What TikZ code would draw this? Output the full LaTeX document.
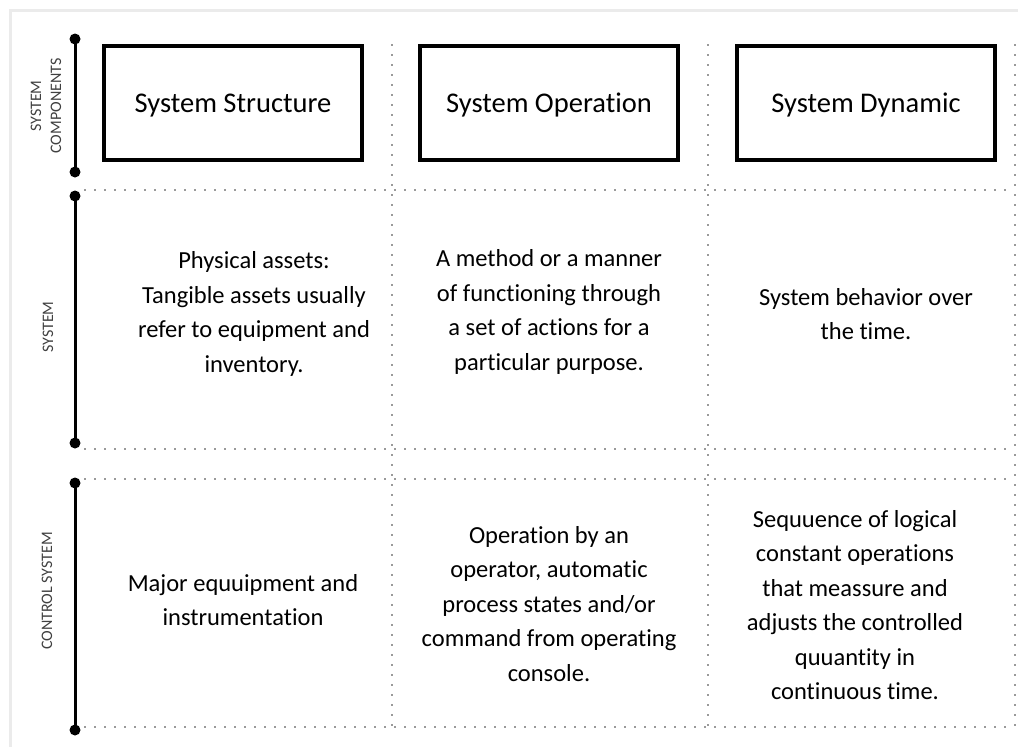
\documentclass[tikz,border=0pt]{standalone}
\usepackage{fontspec}
\setmainfont{Carlito}[Ligatures=NoCommon]
\usetikzlibrary{shadows}
\begin{document}
\begin{tikzpicture}[x=1pt,y=-1pt,
  frame/.style={line width=3pt, draw=black!8},
  bar/.style={line width=3pt, draw=black},
  barend/.style={circle, fill=black, inner sep=0pt, minimum size=11pt},
  gridline/.style={line width=1.9pt, draw=black!80, dash pattern=on 0pt off 10pt, line cap=round},
  compbox/.style={draw=black, fill=white, line width=3.5pt, minimum width=258pt, minimum height=114pt,
    font=\fontsize{28.5}{34}\selectfont, text depth=0pt,
    drop shadow={shadow xshift=1.5pt, shadow yshift=-1.5pt, opacity=0.18, fill=blue!30!gray}},
  body/.style={align=center, font=\fontsize{24.5}{34.5}\selectfont},
  side/.style={rotate=90, align=center, font=\fontsize{16}{20}\selectfont, text=black!75}]
\useasboundingbox (0,0) rectangle (1018,747);

% light page frame
\draw[frame] (10,747) -- (10,10) -- (1018,10);

% dotted table grid
\foreach \y in {190,449,479,727}
  \draw[gridline] (85,\y) -- (1015,\y);
\foreach \x in {392,708,1015}
  \draw[gridline] (\x,45) -- (\x,727);

% row markers on the left
\node[barend] (c1t) at (75,39) {};
\node[barend] (c1b) at (75,172) {};
\node[barend] (s1t) at (75,196) {};
\node[barend] (s1b) at (75,443) {};
\node[barend] (k1t) at (75,483) {};
\node[barend] (k1b) at (75,730) {};
\draw[bar] (c1t.center) -- (c1b.center);
\draw[bar] (s1t.center) -- (s1b.center);
\draw[bar] (k1t.center) -- (k1b.center);

\node[side] (lcomp) at (46,106) {SYSTEM\\COMPONENTS};
\node[side] (lsys) at (48,327) {SYSTEM};
\node[side] (lctrl) at (47,591) {CONTROL SYSTEM};

% component headers
\node[compbox] (structure) at (233,103) {System Structure};
\node[compbox] (operation) at (549,103) {System Operation};
\node[compbox] (dynamic) at (866,103) {System Dynamic};

% system row
\node[body] (sysA) at (254,314) {Physical assets:\\Tangible assets usually\\refer to equipment and\\inventory.};
\node[body] (sysB) at (549,312) {A method or a manner\\of functioning through\\a set of actions for a\\particular purpose.};
\node[body] (sysC) at (866,314) {System behavior over\\the time.};

% control system row
\node[body] (ctlA) at (243,600) {Major equuipment and\\instrumentation};
\node[body] (ctlB) at (549,604) {Operation by an\\operator, automatic\\process states and/or\\command from operating\\console.};
\node[body] (ctlC) at (855,605) {Sequuence of logical\\constant operations\\that meassure and\\adjusts the controlled\\quuantity in\\continuous time.};
\end{tikzpicture}
\end{document}
